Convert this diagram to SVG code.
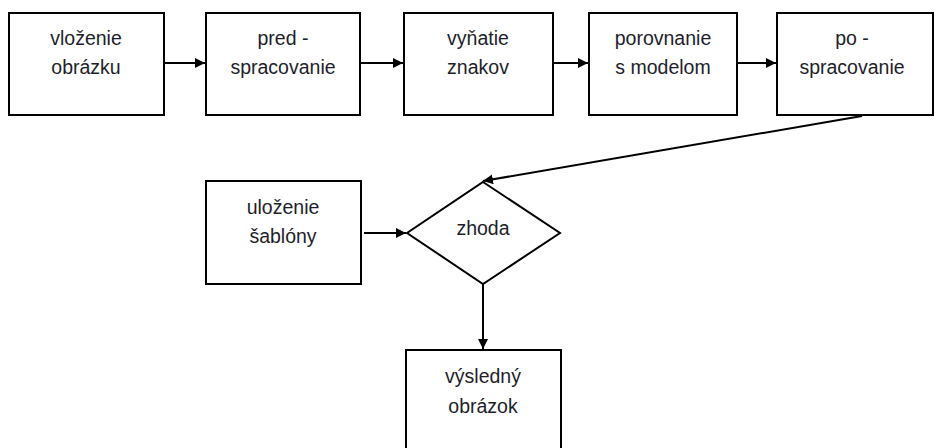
<svg xmlns="http://www.w3.org/2000/svg" width="936" height="448" viewBox="0 0 936 448">
<style>
.box{fill:#fff;stroke:#000;stroke-width:2}
.t{font-family:"Liberation Sans",Arial,sans-serif;font-size:19.5px;fill:#1e1e2a;text-anchor:middle}
.c{stroke:#000;stroke-width:2;fill:none}
</style>
<defs>
<marker id="ah" viewBox="0 0 10 10" refX="10" refY="5" markerWidth="10" markerHeight="10" markerUnits="userSpaceOnUse" orient="auto">
<path d="M0,0 L10,5 L0,10 z" fill="#000"/>
</marker>
</defs>
<rect width="936" height="448" fill="#fff"/>
<g id="connectors">
<line class="c" x1="164" y1="63" x2="205" y2="63" marker-end="url(#ah)"/>
<line class="c" x1="360" y1="63" x2="403" y2="63" marker-end="url(#ah)"/>
<line class="c" x1="553" y1="63" x2="588" y2="63" marker-end="url(#ah)"/>
<line class="c" x1="737" y1="63" x2="776" y2="63" marker-end="url(#ah)"/>
<line class="c" x1="862" y1="116" x2="483" y2="181" marker-end="url(#ah)"/>
<line class="c" x1="364" y1="233" x2="406" y2="233" marker-end="url(#ah)"/>
<line class="c" x1="483" y1="284" x2="483" y2="349" marker-end="url(#ah)"/>
</g>
<g id="n1"><rect class="box" x="9" y="13" width="155" height="102"/><text class="t" x="86" y="45">vloženie</text><text class="t" x="86" y="74">obrázku</text></g>
<g id="n2"><rect class="box" x="206" y="13" width="154" height="102"/><text class="t" x="283" y="45">pred -</text><text class="t" x="283" y="74">spracovanie</text></g>
<g id="n3"><rect class="box" x="404" y="13" width="149" height="102"/><text class="t" x="478" y="45">vyňatie</text><text class="t" x="478" y="74">znakov</text></g>
<g id="n4"><rect class="box" x="589" y="13" width="148" height="102"/><text class="t" x="663" y="45">porovnanie</text><text class="t" x="663" y="74">s modelom</text></g>
<g id="n5"><rect class="box" x="777" y="13" width="156" height="102"/><text class="t" x="852" y="45">po -</text><text class="t" x="852" y="74">spracovanie</text></g>
<g id="n6"><rect class="box" x="206" y="181" width="155" height="103"/><text class="t" x="283" y="214">uloženie</text><text class="t" x="283" y="243">šablóny</text></g>
<g id="n7"><polygon class="box" points="483,182 560,233 483,284 407,233"/><text class="t" x="483" y="235">zhoda</text></g>
<g id="n8"><rect class="box" x="406" y="350" width="155" height="110"/><text class="t" x="483" y="383">výsledný</text><text class="t" x="483" y="413">obrázok</text></g>
</svg>
